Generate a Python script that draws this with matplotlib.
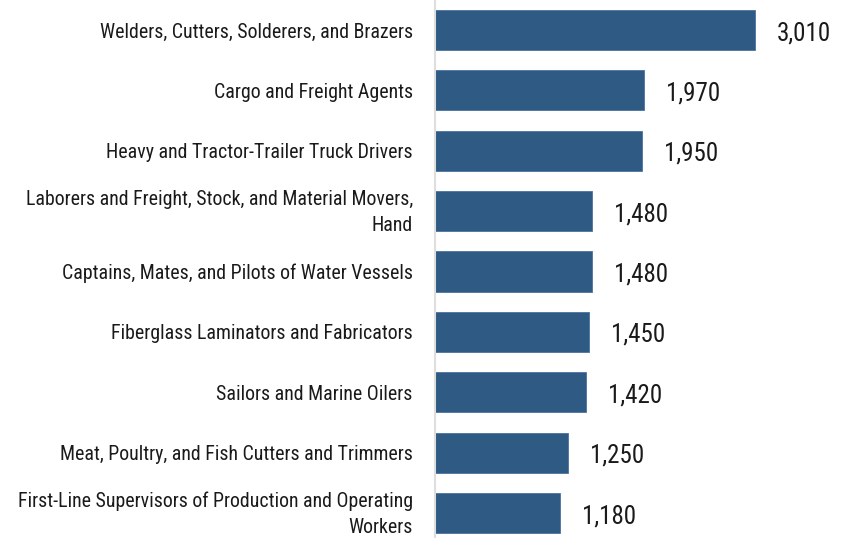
import matplotlib.pyplot as plt
from matplotlib.transforms import ScaledTranslation

categories = [
    'Welders, Cutters, Solderers, and Brazers',
    'Cargo and Freight Agents',
    'Heavy and Tractor-Trailer Truck Drivers',
    'Laborers and Freight, Stock, and Material Movers,\nHand',
    'Captains, Mates, and Pilots of Water Vessels',
    'Fiberglass Laminators and Fabricators',
    'Sailors and Marine Oilers',
    'Meat, Poultry, and Fish Cutters and Trimmers',
    'First-Line Supervisors of Production and Operating\nWorkers',
]
values = [3010, 1970, 1950, 1480, 1480, 1450, 1420, 1250, 1180]

plt.rcParams['font.family'] = ['Roboto Condensed', 'Fira Sans Condensed', 'DejaVu Sans']
plt.rcParams['font.weight'] = 'normal'

fig = plt.figure(figsize=(8.5, 5.38), dpi=100)
ax = fig.add_axes([0.5118, 0.0, 0.4882, 1.0])

ypos = list(range(len(values)))
bars = ax.barh(ypos, values, height=0.663, color='#2F5A83', edgecolor='#4A73A0', linewidth=0.6)

for y, v in zip(ypos, values):
    ax.text(v + 205, y + 0.05, f'{v:,}', ha='left', va='center', fontsize=18, color='#1a1a1a')

ax.set_yticks(ypos)
ax.set_yticklabels(categories, fontsize=14.3, color='#1a1a1a', linespacing=1.45)
ax.tick_params(axis='y', length=0, pad=16)
ax.set_ylim(8.414, -0.497)
ax.set_xlim(0, 3904)
ax.set_xticks([])
for s in ['top', 'right', 'bottom']:
    ax.spines[s].set_visible(False)
ax.spines['left'].set_color('#dedede')
ax.spines['left'].set_linewidth(1.5)

# two-line labels sit a bit low, nudge them up
shift = ScaledTranslation(0, 4 / 100, fig.dpi_scale_trans)
for lbl in ax.get_yticklabels():
    if '\n' in lbl.get_text():
        lbl.set_transform(lbl.get_transform() + shift)

fig.savefig('out.png', dpi=100)
